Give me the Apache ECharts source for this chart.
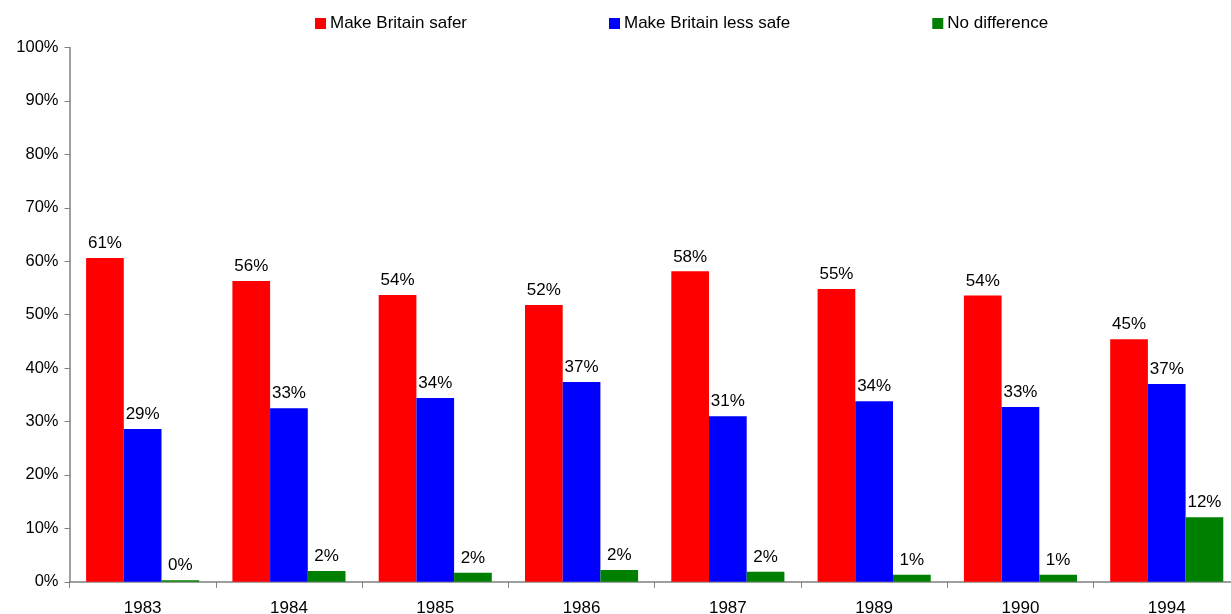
<!DOCTYPE html>
<html>
<head>
<meta charset="utf-8">
<script src="https://cdn.jsdelivr.net/npm/echarts@6/dist/echarts.min.js"></script>
<style>html,body{margin:0;padding:0;background:#fff;overflow:hidden;}#c{width:1240px;height:624px;}</style>
</head>
<body>
<div id="c"></div>
<script>
const years = ['1983','1984','1985','1986','1987','1989','1990','1994'];
const safer = [60.6, 56.3, 53.7, 51.8, 58.1, 54.8, 53.6, 45.4];
const lessSafe = [28.6, 32.5, 34.4, 37.4, 31.0, 33.8, 32.7, 37.0];
const noDiff = [0.3, 2.0, 1.7, 2.2, 1.9, 1.3, 1.3, 12.1];
const yTicks = [0, 10, 20, 30, 40, 50, 60, 70, 80, 90, 100];

const font = 'Liberation Sans, Arial, sans-serif';
const chart = echarts.init(document.getElementById('c'));
function mk(name, data, color) {
  return {
    name, type: 'bar', data, barWidth: 37.7, barGap: '0%',
    itemStyle: { color },
    label: {
      show: true, position: 'top', distance: 6,
      color: '#000', fontFamily: font, fontSize: 17,
      formatter: p => Math.round(p.value) + '%'
    }
  };
}
chart.setOption({
  animation: false,
  backgroundColor: '#fff',
  legend: {
    top: 15, left: 315, itemWidth: 11, itemHeight: 11, itemGap: 142,
    icon: 'rect', padding: 0,
    textStyle: { fontFamily: font, fontSize: 17, color: '#000', padding: [0, 0, 0, -1] },
    data: ['Make Britain safer', 'Make Britain less safe', 'No difference']
  },
  grid: { left: 69.5, width: 1170.4, top: 47.5, height: 534.3, containLabel: false, outerBoundsMode: 'none' },
  xAxis: {
    type: 'category', data: years,
    axisLine: { lineStyle: { color: '#808080', width: 1.5 } },
    axisTick: { show: true, length: 6, alignWithLabel: false, lineStyle: { color: '#808080' } },
    axisLabel: { fontFamily: font, fontSize: 17, color: '#000', margin: 18 }
  },
  yAxis: {
    type: 'value', min: 0, max: 100, interval: 10,
    axisLine: { show: true, lineStyle: { color: '#808080', width: 1.5 } },
    axisTick: { show: true, length: 5, inside: false, lineStyle: { color: '#808080' } },
    splitLine: { show: false },
    axisLabel: { fontFamily: font, fontSize: 16.5, color: '#000', margin: 11,
      formatter: v => yTicks.includes(v) ? v + '%' : '' }
  },
  series: [
    mk('Make Britain safer', safer, '#ff0000'),
    mk('Make Britain less safe', lessSafe, '#0000ff'),
    mk('No difference', noDiff, '#008000')
  ]
});
</script>
</body>
</html>
